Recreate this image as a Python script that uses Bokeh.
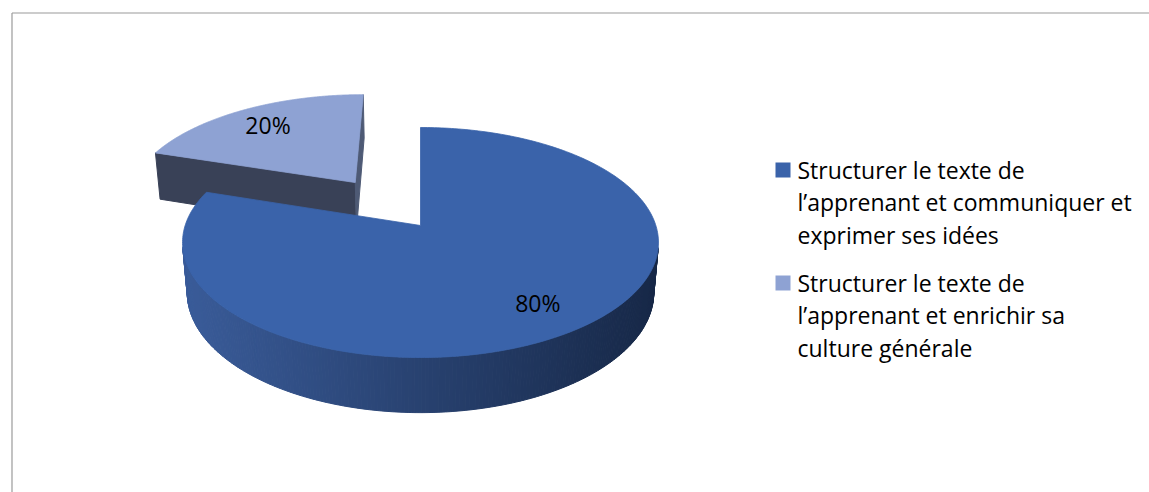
import numpy as np
from bokeh.plotting import figure
from bokeh.models import Range1d, ColumnDataSource
from bokeh.embed import file_html
from bokeh.resources import INLINE
from bokeh.core.properties import value

# ---------------- data ----------------
categories = [
    ["Structurer le texte de", "l\u2019apprenant et communiquer et", "exprimer ses id\u00e9es"],
    ["Structurer le texte de", "l\u2019apprenant et enrichir sa", "culture g\u00e9n\u00e9rale"],
]
values = [80, 20]
explode = [0.0, 0.5]
top_colors = ["#3A63AA", "#8EA2D3"]
radial_colors = ["#2B4A80", "#394157"]
side_left = (58, 92, 154)
side_right = (22, 39, 70)

# ---------------- layout / projection ----------------
W, H = 1149, 492
CX, CY = 420.0, 225.0          # projected pie centre (page pixels)
F = 1398.0                     # focal length
DIST = 5.94                    # camera distance (in radii)
PHI = np.arcsin(0.478)         # elevation
S, C = np.sin(PHI), np.cos(PHI)
THICK = 0.245                  # pie thickness (in radii)
LABEL_R = 0.77
FONT = "Open Sans"
FSIZE = "23px"

CAM = np.array([0.0, -DIST * C, DIST * S])


def proj(X, Y, Z):
    X, Y, Z = np.asarray(X, float), np.asarray(Y, float), np.asarray(Z, float)
    depth = DIST + Y * C - Z * S
    return CX + F * X / depth, CY - F * (Y * S + Z * C) / depth


p = figure(width=W, height=H, output_backend="svg", toolbar_location=None,
           x_range=Range1d(0, W), y_range=Range1d(H, 0),
           x_axis_location=None, y_axis_location=None, min_border=0,
           outline_line_color=None, background_fill_color="white",
           border_fill_color="white")
p.grid.visible = False

# chart-area border (top and left edges visible)
p.segment(x0=[11.5, 11.5], y0=[12.5, 12.5], x1=[11.5, 1300], y1=[700, 12.5],
          line_color="#9a9a9a", line_width=1.2)

total = float(sum(values))
cum = np.concatenate([[0], np.cumsum(values)])
slices = []
for i, v in enumerate(values):
    a0 = np.radians(90 - cum[i] / total * 360)
    a1 = np.radians(90 - cum[i + 1] / total * 360)
    mid = (a0 + a1) / 2
    ox, oy = explode[i] * np.cos(mid), explode[i] * np.sin(mid)
    slices.append(dict(i=i, a0=a0, a1=a1, mid=mid, ox=ox, oy=oy))

# draw farthest slice first
slices.sort(key=lambda d: -d["oy"])


def lerp(c0, c1, t):
    t = min(max(t, 0), 1)
    return "#%02x%02x%02x" % tuple(int(round(a + (b - a) * t)) for a, b in zip(c0, c1))


xl_all, xr_all = proj(-1, -0.15, 0)[0], proj(1, -0.15, 0)[0]

for sl in slices:
    i, a0, a1, ox, oy = sl["i"], sl["a0"], sl["a1"], sl["ox"], sl["oy"]
    # radial faces
    for edge, nang in ((a0, a0 + np.pi / 2), (a1, a1 - np.pi / 2)):
        n = np.array([np.cos(nang), np.sin(nang), 0])
        P = np.array([ox, oy, 0])
        if np.dot(CAM - P, n) > 1e-6:
            ex, ey = ox + np.cos(edge), oy + np.sin(edge)
            X = [ox, ex, ex, ox]
            Y = [oy, ey, ey, oy]
            Z = [0, 0, -THICK, -THICK]
            sx, sy = proj(X, Y, Z)
            col = radial_colors[i] if abs(np.cos(edge)) > 0.3 else "#4E5A75"
            p.patch(list(sx), list(sy), fill_color=col, line_color=col, line_width=1)
    # curved side strips
    th = np.linspace(a0, a1, 400)
    xs_list, ys_list, cols = [], [], []
    for k in range(len(th) - 1):
        t0, t1 = th[k], th[k + 1]
        tm = (t0 + t1) / 2
        Pm = np.array([ox + np.cos(tm), oy + np.sin(tm), 0])
        nm = np.array([np.cos(tm), np.sin(tm), 0])
        if np.dot(CAM - Pm, nm) <= 0:
            continue
        X = [ox + np.cos(t0), ox + np.cos(t1), ox + np.cos(t1), ox + np.cos(t0)]
        Y = [oy + np.sin(t0), oy + np.sin(t1), oy + np.sin(t1), oy + np.sin(t0)]
        Z = [0, 0, -THICK, -THICK]
        sx, sy = proj(X, Y, Z)
        xs_list.append(list(sx))
        ys_list.append(list(sy))
        cols.append(lerp(side_left, side_right, (np.mean(sx) - xl_all) / (xr_all - xl_all)))
    if xs_list:
        src = ColumnDataSource(dict(xs=xs_list, ys=ys_list, c=cols))
        p.patches("xs", "ys", source=src, fill_color="c", line_color="c", line_width=1)
    # top face
    th = np.linspace(a0, a1, 300)
    X = np.concatenate([[ox], ox + np.cos(th)])
    Y = np.concatenate([[oy], oy + np.sin(th)])
    sx, sy = proj(X, Y, np.zeros_like(X))
    p.patch(list(sx), list(sy), fill_color=top_colors[i], line_color=top_colors[i], line_width=0.8)

# percentage labels
lx, ly, lt = [], [], []
for sl in sorted(slices, key=lambda d: d["i"]):
    r = explode[sl["i"]] + LABEL_R
    sx, sy = proj(r * np.cos(sl["mid"]), r * np.sin(sl["mid"]), 0)
    lx.append(float(sx)); ly.append(float(sy)); lt.append(f"{values[sl['i']]}%")
p.text(x=lx, y=ly, text=lt, text_font=value(FONT), text_font_size=FSIZE,
       text_align="center", text_baseline="middle", text_color="#000000")

# legend
LEG_X, LEG_Y0, LEG_GAP, LINE_H = 797, 169, 113, 32.5
for i, lines in enumerate(categories):
    mid_y = LEG_Y0 + i * LEG_GAP
    p.rect(x=[782.5], y=[mid_y + 0.5], width=15, height=15, width_units="screen",
           height_units="screen", fill_color=top_colors[i], line_color=None)
    p.text(x=[LEG_X] * len(lines), y=[mid_y + k * LINE_H for k in range(len(lines))],
           text=lines, text_font=value(FONT), text_font_size=FSIZE,
           text_align="left", text_baseline="middle", text_color="#000000")

open("out.html", "w").write(file_html(p, INLINE))
